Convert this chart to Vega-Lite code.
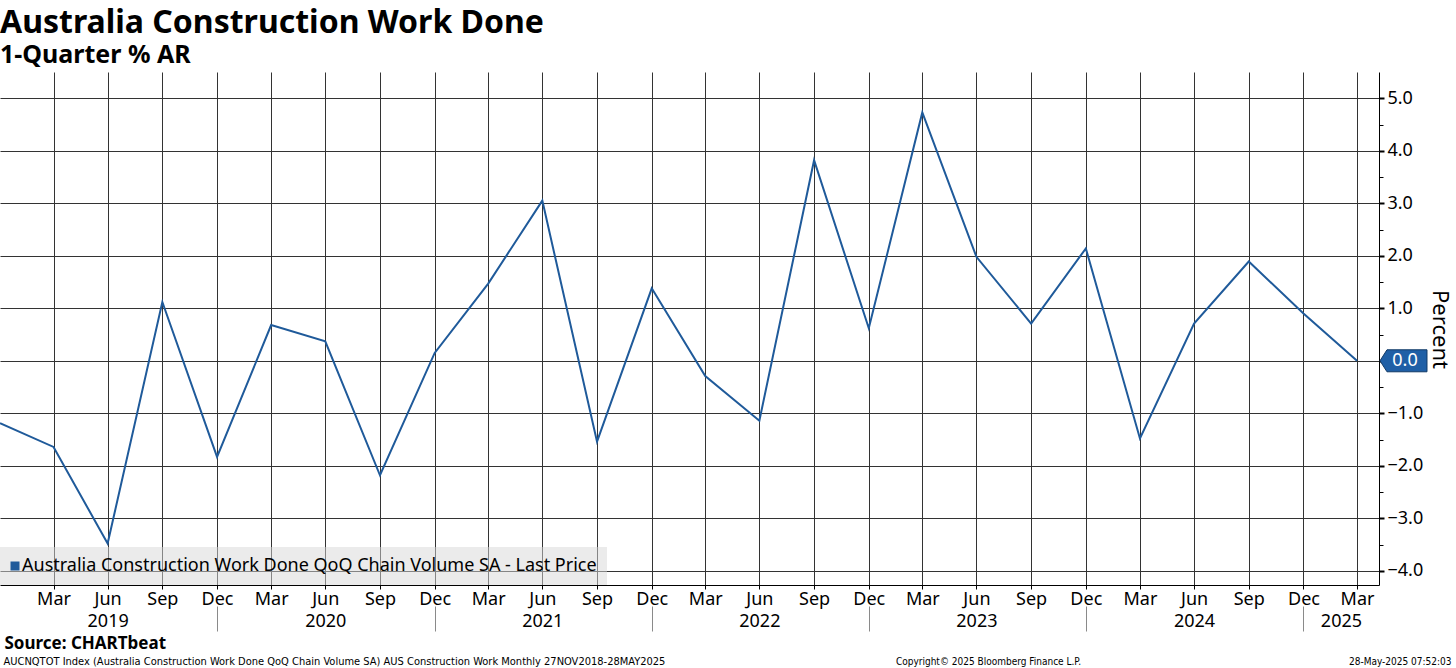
{
  "$schema": "https://vega.github.io/schema/vega-lite/v6.json",
  "width": 1379,
  "height": 513,
  "autosize": "none",
  "padding": {"left": 0, "top": 72, "right": 77, "bottom": 83},
  "background": "white",
  "title": {
    "text": "Australia Construction Work Done",
    "subtitle": "1-Quarter % AR",
    "anchor": "start",
    "frame": "group",
    "font": "Noto Sans",
    "fontSize": 32,
    "fontWeight": "bold",
    "color": "black",
    "subtitleFont": "Noto Sans",
    "subtitleFontSize": 25,
    "subtitleFontWeight": "bold",
    "subtitleColor": "black",
    "subtitlePadding": 3,
    "offset": 3
  },
  "data": {
    "values": [
      {"date": "2018-12-31", "value": -1.19},
      {"date": "2019-03-31", "value": -1.64},
      {"date": "2019-06-30", "value": -3.48},
      {"date": "2019-09-30", "value": 1.12},
      {"date": "2019-12-31", "value": -1.83},
      {"date": "2020-03-31", "value": 0.68},
      {"date": "2020-06-30", "value": 0.37},
      {"date": "2020-09-30", "value": -2.18},
      {"date": "2020-12-31", "value": 0.15},
      {"date": "2021-03-31", "value": 1.47},
      {"date": "2021-06-30", "value": 3.05},
      {"date": "2021-09-30", "value": -1.54},
      {"date": "2021-12-31", "value": 1.38},
      {"date": "2022-03-31", "value": -0.29},
      {"date": "2022-06-30", "value": -1.14},
      {"date": "2022-09-30", "value": 3.82},
      {"date": "2022-12-31", "value": 0.62},
      {"date": "2023-03-31", "value": 4.73},
      {"date": "2023-06-30", "value": 1.98},
      {"date": "2023-09-30", "value": 0.71},
      {"date": "2023-12-31", "value": 2.14},
      {"date": "2024-03-31", "value": -1.48},
      {"date": "2024-06-30", "value": 0.71},
      {"date": "2024-09-30", "value": 1.89},
      {"date": "2024-12-31", "value": 0.9},
      {"date": "2025-03-31", "value": 0.0}
    ]
  },
  "layer": [
    {
      "mark": {"type": "line", "strokeWidth": 2, "clip": true},
      "encoding": {
        "x": {
          "field": "date",
          "type": "temporal",
          "scale": {"type": "utc", "domain": [{"year": 2018, "month": 12, "date": 31, "utc": true}, {"year": 2025, "month": 5, "date": 7, "utc": true}]},
          "axis": {
            "orient": "bottom",
            "values": [
              {"year": 2019, "month": 3, "date": 31, "utc": true},
              {"year": 2019, "month": 6, "date": 30, "utc": true},
              {"year": 2019, "month": 9, "date": 30, "utc": true},
              {"year": 2019, "month": 12, "date": 31, "utc": true},
              {"year": 2020, "month": 3, "date": 31, "utc": true},
              {"year": 2020, "month": 6, "date": 30, "utc": true},
              {"year": 2020, "month": 9, "date": 30, "utc": true},
              {"year": 2020, "month": 12, "date": 31, "utc": true},
              {"year": 2021, "month": 3, "date": 31, "utc": true},
              {"year": 2021, "month": 6, "date": 30, "utc": true},
              {"year": 2021, "month": 9, "date": 30, "utc": true},
              {"year": 2021, "month": 12, "date": 31, "utc": true},
              {"year": 2022, "month": 3, "date": 31, "utc": true},
              {"year": 2022, "month": 6, "date": 30, "utc": true},
              {"year": 2022, "month": 9, "date": 30, "utc": true},
              {"year": 2022, "month": 12, "date": 31, "utc": true},
              {"year": 2023, "month": 3, "date": 31, "utc": true},
              {"year": 2023, "month": 6, "date": 30, "utc": true},
              {"year": 2023, "month": 9, "date": 30, "utc": true},
              {"year": 2023, "month": 12, "date": 31, "utc": true},
              {"year": 2024, "month": 3, "date": 31, "utc": true},
              {"year": 2024, "month": 6, "date": 30, "utc": true},
              {"year": 2024, "month": 9, "date": 30, "utc": true},
              {"year": 2024, "month": 12, "date": 31, "utc": true},
              {"year": 2025, "month": 3, "date": 31, "utc": true}
            ],
            "labelExpr": "utcFormat(datum.value, '%b')",
            "labelFont": "Noto Sans",
            "labelFontSize": 18,
            "labelColor": "black",
            "labelFlush": false,
            "labelOverlap": false,
            "labelPadding": 1,
            "tickSize": 4,
            "tickColor": "black",
            "domain": true,
            "domainColor": "black",
            "grid": true,
            "gridColor": "#333333",
            "gridWidth": 1,
            "title": "Source: CHARTbeat",
            "titleFont": "Noto Sans",
            "titleFontSize": 17,
            "titleFontWeight": "bold",
            "titleColor": "black",
            "titleAngle": 0,
            "titleAlign": "left",
            "titleBaseline": "alphabetic",
            "titleX": 4,
            "titleY": 63
          }
        },
        "y": {
          "field": "value",
          "type": "quantitative",
          "scale": {"domain": [-4.27, 5.5], "nice": false, "zero": false},
          "axis": {
            "orient": "right",
            "values": [-4, -3, -2, -1, 0, 1, 2, 3, 4, 5],
            "format": ".1f",
            "labelFont": "Noto Sans",
            "labelFontSize": 18,
            "labelColor": "black",
            "labelAlign": "left",
            "labelPadding": 3,
            "tickSize": 5,
            "tickWidth": 2,
            "tickColor": "black",
            "domainColor": "black",
            "grid": true,
            "gridColor": "#333333",
            "gridWidth": 1,
            "title": "Percent",
            "titleFont": "Noto Sans",
            "titleFontSize": 22,
            "titleFontWeight": "normal",
            "titleColor": "black",
            "titleAngle": 90,
            "titleAlign": "center",
            "titleBaseline": "bottom",
            "titleX": 48,
            "titleY": 257
          }
        },
        "color": {
          "datum": "Australia Construction Work Done QoQ Chain Volume SA - Last Price",
          "type": "nominal",
          "scale": {"range": ["#1f5a9a"]},
          "legend": {
            "title": null,
            "orient": "bottom-left",
            "offset": 0,
            "fillColor": "rgba(215,215,215,0.5)",
            "padding": 10,
            "symbolOffset": -4,
            "labelFont": "Noto Sans",
            "labelFontSize": 18,
            "labelColor": "black",
            "labelOffset": -2,
            "labelLimit": 700,
            "symbolType": "square",
            "symbolSize": 81,
            "encode": {"symbols": {"update": {"fill": {"value": "#1f5a9a"}, "strokeWidth": {"value": 0}}}}
          }
        }
      }
    },
    {
      "transform": [{"filter": "utcyear(datum.date) == 2025"}],
      "mark": {
        "type": "point",
        "shape": "M23,0 L30,-11 L70,-11 L70,11 L30,11 Z",
        "size": 4,
        "filled": true,
        "fill": "#1f5fa6",
        "stroke": "#123a66",
        "strokeWidth": 1,
        "opacity": 1
      },
      "encoding": {
        "x": {
          "field": "date",
          "type": "temporal",
          "axis": {
            "orient": "bottom",
            "offset": 21,
            "values": [
              {"year": 2019, "month": 6, "date": 30, "utc": true},
              {"year": 2019, "month": 12, "date": 31, "utc": true},
              {"year": 2020, "month": 6, "date": 30, "utc": true},
              {"year": 2020, "month": 12, "date": 31, "utc": true},
              {"year": 2021, "month": 6, "date": 30, "utc": true},
              {"year": 2021, "month": 12, "date": 31, "utc": true},
              {"year": 2022, "month": 6, "date": 30, "utc": true},
              {"year": 2022, "month": 12, "date": 31, "utc": true},
              {"year": 2023, "month": 6, "date": 30, "utc": true},
              {"year": 2023, "month": 12, "date": 31, "utc": true},
              {"year": 2024, "month": 6, "date": 30, "utc": true},
              {"year": 2024, "month": 12, "date": 31, "utc": true},
              {"year": 2025, "month": 3, "date": 4, "utc": true}
            ],
            "labelExpr": "utcmonth(datum.value) == 11 ? '' : utcFormat(datum.value, '%Y')",
            "labelFont": "Noto Sans",
            "labelFontSize": 18,
            "labelColor": "black",
            "labelFlush": false,
            "labelOverlap": false,
            "labelPadding": -19,
            "tickSize": 25,
            "tickColor": "#8a8a8a",
            "tickOpacity": {"condition": {"test": "utcmonth(datum.value) == 11", "value": 1}, "value": 0},
            "domain": false,
            "grid": false,
            "title": "AUCNQTOT Index (Australia Construction Work Done QoQ Chain Volume SA) AUS Construction Work  Monthly 27NOV2018-28MAY2025",
            "titleFont": "Liberation Sans Narrow, DejaVu Sans Condensed, Liberation Sans",
            "titleFontSize": 11,
            "titleFontWeight": "normal",
            "titleColor": "black",
            "titleAngle": 0,
            "titleAlign": "left",
            "titleBaseline": "alphabetic",
            "titleX": 3,
            "titleY": 58
          }
        },
        "y": {
          "field": "value",
          "type": "quantitative",
          "axis": {
            "orient": "right",
            "values": [-3.5, -2.5, -1.5, -0.5, 0.5, 1.5, 2.5, 3.5, 4.5],
            "labels": false,
            "domain": false,
            "grid": false,
            "tickSize": 4,
            "tickColor": "black",
            "title": "Copyright\u00a9 2025 Bloomberg Finance L.P.",
            "titleFont": "Liberation Sans Narrow, DejaVu Sans Condensed, Liberation Sans",
            "titleFontSize": 10,
            "titleFontWeight": "normal",
            "titleColor": "black",
            "titleAngle": 0,
            "titleAlign": "center",
            "titleBaseline": "alphabetic",
            "titleX": -391,
            "titleY": 592
          }
        }
      }
    },
    {
      "transform": [{"filter": "utcyear(datum.date) == 2025"}],
      "mark": {"type": "text", "dx": 48, "align": "center", "baseline": "middle", "color": "white", "font": "Noto Sans", "fontSize": 18},
      "encoding": {
        "x": {
          "field": "date",
          "type": "temporal",
          "axis": {
            "orient": "bottom",
            "labels": false,
            "ticks": false,
            "domain": false,
            "grid": false,
            "title": "28-May-2025 07:52:03",
            "titleFont": "Liberation Sans Narrow, DejaVu Sans Condensed, Liberation Sans",
            "titleFontSize": 10,
            "titleFontWeight": "normal",
            "titleColor": "black",
            "titleAngle": 0,
            "titleAlign": "right",
            "titleBaseline": "alphabetic",
            "titleX": 1451,
            "titleY": 79
          }
        },
        "y": {"field": "value", "type": "quantitative", "axis": null},
        "text": {"field": "value", "type": "quantitative", "format": ".1f"}
      }
    }
  ],
  "resolve": {"axis": {"x": "independent", "y": "independent"}},
  "config": {"view": {"stroke": null}}
}
